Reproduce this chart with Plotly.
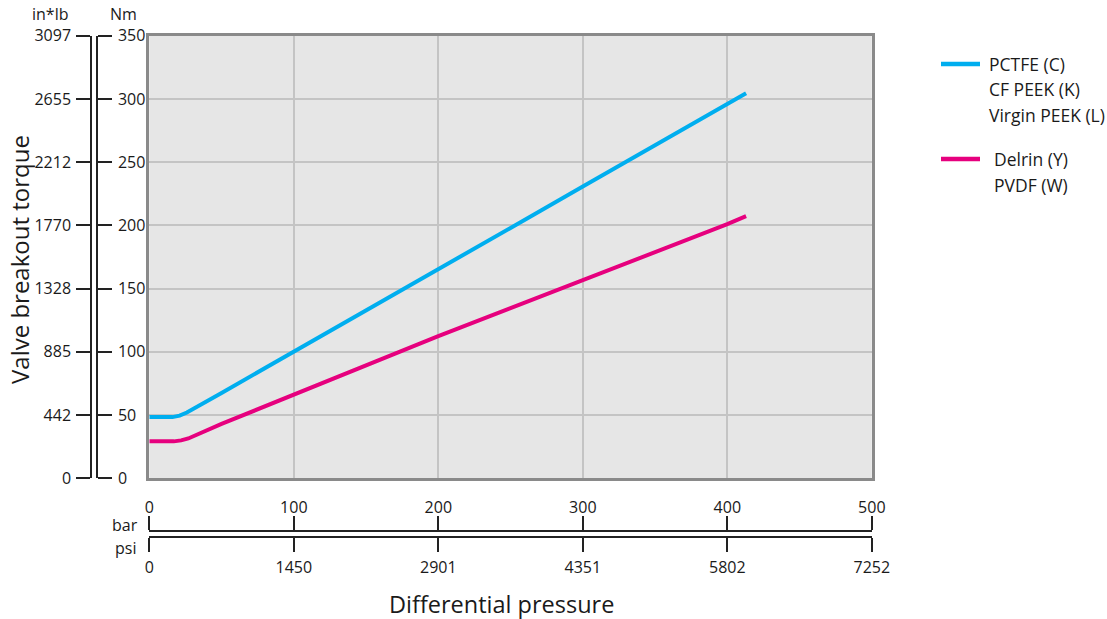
import plotly.graph_objects as go

# ---- data ----
bar_pctfe = [0, 16, 21, 26, 50, 100, 150, 200, 250, 300, 350, 400, 413]
nm_pctfe = [48.4, 48.4, 49.5, 52, 67.5, 100, 132.5, 164.8, 198, 230.8, 263, 295.3, 304.4]

bar_delrin = [0, 17, 22, 27, 50, 100, 150, 200, 250, 300, 350, 400, 413]
nm_delrin = [29.2, 29.2, 30, 31.5, 43, 66, 89, 112.4, 134.5, 156.5, 179, 201, 207.3]

bar_ticks = [0, 100, 200, 300, 400, 500]
bar_labels = ["0", "100", "200", "300", "400", "500"]
psi_labels = ["0", "1450", "2901", "4351", "5802", "7252"]
nm_ticks = [0, 50, 100, 150, 200, 250, 300, 350]
nm_labels = ["0", "50", "100", "150", "200", "250", "300", "350"]
inlb_labels = ["0", "442", "885", "1328", "1770", "2212", "2655", "3097"]

legend_groups = [
    ["PCTFE (C)", "CF PEEK (K)", "Virgin PEEK (L)"],
    ["Delrin (Y)", "PVDF (W)"],
]
colors = ["#00AEEF", "#E6007E"]

W, H = 1107, 619
FONT = "Open Sans"
TXT = "#1a1a1a"


def px(x):
    return x / W


def py(y):
    return 1 - y / H


fig = go.Figure()
fig.add_trace(go.Scatter(x=bar_pctfe, y=nm_pctfe, mode="lines",
                         line=dict(color=colors[0], width=4), showlegend=False,
                         hoverinfo="skip"))
fig.add_trace(go.Scatter(x=bar_delrin, y=nm_delrin, mode="lines",
                         line=dict(color=colors[1], width=4), showlegend=False,
                         hoverinfo="skip"))
# transparent copies so the extra unit axes get drawn
fig.add_trace(go.Scatter(x=bar_pctfe, y=nm_pctfe, mode="lines", xaxis="x2", yaxis="y2",
                         opacity=0, showlegend=False, hoverinfo="skip"))
fig.add_trace(go.Scatter(x=bar_delrin, y=nm_delrin, mode="lines", xaxis="x3", yaxis="y3",
                         opacity=0, showlegend=False, hoverinfo="skip"))

xdom = [px(149.3), px(871.8)]
ydom = [py(478.3), py(35.7)]

axis_font = dict(family=FONT, size=16, color=TXT)

common = dict(tickmode="array", ticks="outside", ticklen=14, tickwidth=1.5,
              tickcolor="#222", showline=True, linecolor="#222", linewidth=1.5,
              showgrid=False, zeroline=False, tickfont=axis_font, automargin=False,
              fixedrange=True)

fig.update_layout(
    width=W, height=H,
    margin=dict(l=0, r=0, t=0, b=0),
    paper_bgcolor="white",
    plot_bgcolor="#e6e6e6",
    font=dict(family=FONT, color=TXT),
    showlegend=False,
    xaxis=dict(domain=xdom, range=[0, 500], tickvals=bar_ticks, showticklabels=False,
               ticks="", showgrid=True, gridcolor="#c4c4c4", gridwidth=1.5,
               zeroline=False, showline=True, mirror=True, linecolor="#8a8a8a",
               linewidth=2.5, fixedrange=True),
    yaxis=dict(domain=ydom, range=[0, 350], tickvals=nm_ticks, showticklabels=False,
               ticks="", showgrid=True, gridcolor="#c4c4c4", gridwidth=1.5,
               zeroline=False, showline=True, mirror=True, linecolor="#8a8a8a",
               linewidth=2.5, fixedrange=True),
    xaxis2=dict(overlaying="x", anchor="free", position=py(531), side="top",
                range=[0, 500], tickvals=bar_ticks, ticktext=bar_labels,
                ticklabelstandoff=-3, **common),
    xaxis3=dict(overlaying="x", anchor="free", position=py(537), side="bottom",
                range=[0, 500], tickvals=bar_ticks, ticktext=psi_labels,
                ticklabelstandoff=2, **common),
    yaxis2=dict(overlaying="y", anchor="free", position=px(97), side="right",
                range=[0, 350], tickvals=nm_ticks, ticktext=nm_labels,
                ticklabelstandoff=3, **common),
    yaxis3=dict(overlaying="y", anchor="free", position=px(91), side="left",
                range=[0, 350], tickvals=nm_ticks, ticktext=inlb_labels,
                ticklabelstandoff=2, **common),
)

ann = []
ann.append(dict(text="in*lb", x=px(50), y=py(14), xref="paper", yref="paper",
                showarrow=False, font=axis_font, xanchor="center", yanchor="middle"))
ann.append(dict(text="Nm", x=px(123), y=py(14), xref="paper", yref="paper",
                showarrow=False, font=axis_font, xanchor="center", yanchor="middle"))
ann.append(dict(text="bar", x=px(140), y=py(525), xref="paper", yref="paper",
                showarrow=False, font=axis_font, xanchor="right", yanchor="middle"))
ann.append(dict(text="psi", x=px(138), y=py(548), xref="paper", yref="paper",
                showarrow=False, font=axis_font, xanchor="right", yanchor="middle"))
ann.append(dict(text="Valve breakout torque", x=px(20), y=py(260), xref="paper", yref="paper",
                showarrow=False, textangle=-90, font=dict(family=FONT, size=24, color=TXT),
                xanchor="center", yanchor="middle"))
ann.append(dict(text="Differential pressure", x=px(501), y=py(604), xref="paper", yref="paper",
                showarrow=False, font=dict(family=FONT, size=23.5, color=TXT),
                xanchor="center", yanchor="middle"))

leg_y0 = [64, 159]
leg_tx = [987, 992]
shapes = []
for gi, names in enumerate(legend_groups):
    y0 = leg_y0[gi]
    shapes.append(dict(type="line", xref="paper", yref="paper",
                       x0=px(941), x1=px(980), y0=py(y0), y1=py(y0),
                       line=dict(color=colors[gi], width=4.5)))
    for k, name in enumerate(names):
        ann.append(dict(text=name, x=px(leg_tx[gi]), y=py(y0 + k * 25.5),
                        xref="paper", yref="paper", showarrow=False,
                        font=dict(family=FONT, size=17.5, color=TXT),
                        xanchor="left", yanchor="middle"))

fig.update_layout(annotations=ann, shapes=shapes)
fig.write_html("out.html", config={"displayModeBar": False},
               post_script="document.body.style.margin='0';document.body.style.padding='0';")
